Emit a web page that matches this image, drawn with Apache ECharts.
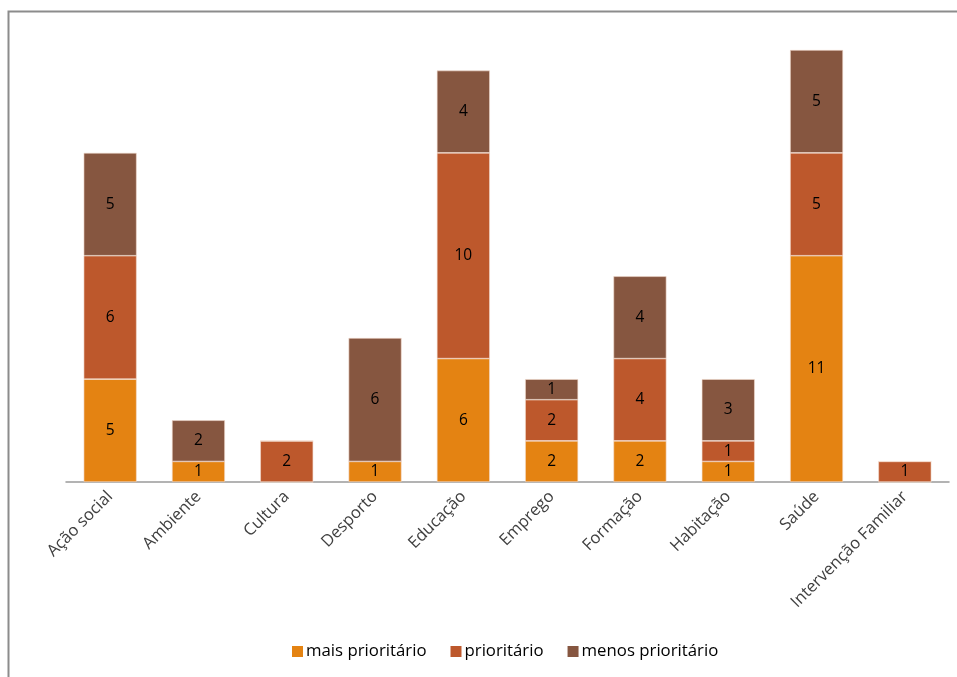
<!DOCTYPE html>
<html>
<head>
<meta charset="utf-8">
<script src="https://cdn.jsdelivr.net/npm/echarts@6/dist/echarts.min.js"></script>
<style>
  html, body { margin: 0; padding: 0; background: #fff; }
  #chart { width: 957px; height: 677px; }
</style>
</head>
<body>
<div id="chart"></div>
<script>
const categories = ["Ação social", "Ambiente", "Cultura", "Desporto", "Educação", "Emprego", "Formação", "Habitação", "Saúde", "Intervenção Familiar"];
const maisPrioritario = [5, 1, 0, 1, 6, 2, 2, 1, 11, 0];
const prioritario = [6, 0, 2, 0, 10, 2, 4, 1, 5, 1];
const menosPrioritario = [5, 2, 0, 6, 4, 1, 4, 3, 5, 0];

const font = "'Open Sans', 'Noto Sans', sans-serif";

function barSeries(name, data, color) {
  return {
    name,
    type: "bar",
    stack: "total",
    data,
    barCategoryGap: "40%",
    itemStyle: { color, borderColor: "#f3dccf", borderWidth: 0.6 },
    label: {
      show: true,
      position: "inside",
      color: "#000",
      fontFamily: font,
      fontSize: 15.5,
      formatter: (p) => (p.value ? String(p.value) : ""),
    },
  };
}

const chart = echarts.init(document.getElementById("chart"));
chart.setOption({
  backgroundColor: "#fff",
  animation: false,
  graphic: [
    {
      type: "rect",
      shape: { x: 8.5, y: 11.5, width: 1000, height: 800 },
      style: { fill: "none", stroke: "#8c8c8c", lineWidth: 2 },
      silent: true,
    },
  ],
  legend: {
    data: ["mais prioritário", "prioritário", "menos prioritário"],
    bottom: 12,
    left: 287,
    itemWidth: 11,
    itemHeight: 11,
    itemGap: 24,
    icon: "rect",
    itemStyle: { borderWidth: 0 },
    textStyle: { color: "#000", fontFamily: font, fontSize: 16.8, padding: [0, 0, 0, -2] },
  },
  grid: { left: 66, right: 8, top: 50, bottom: 195, containLabel: false },
  xAxis: {
    type: "category",
    data: categories,
    axisLine: { lineStyle: { color: "#9a9a9a", width: 1.5 } },
    axisTick: { show: false },
    axisLabel: {
      rotate: 45,
      interval: 0,
      margin: 12,
      color: "#404040",
      fontFamily: font,
      fontSize: 16.5,
    },
  },
  yAxis: {
    type: "value",
    min: 0,
    max: 21,
    show: false,
    splitLine: { show: false },
  },
  series: [
    barSeries("mais prioritário", maisPrioritario, "#e48312"),
    barSeries("prioritário", prioritario, "#bd582c"),
    barSeries("menos prioritário", menosPrioritario, "#865640"),
  ],
});
</script>
</body>
</html>
